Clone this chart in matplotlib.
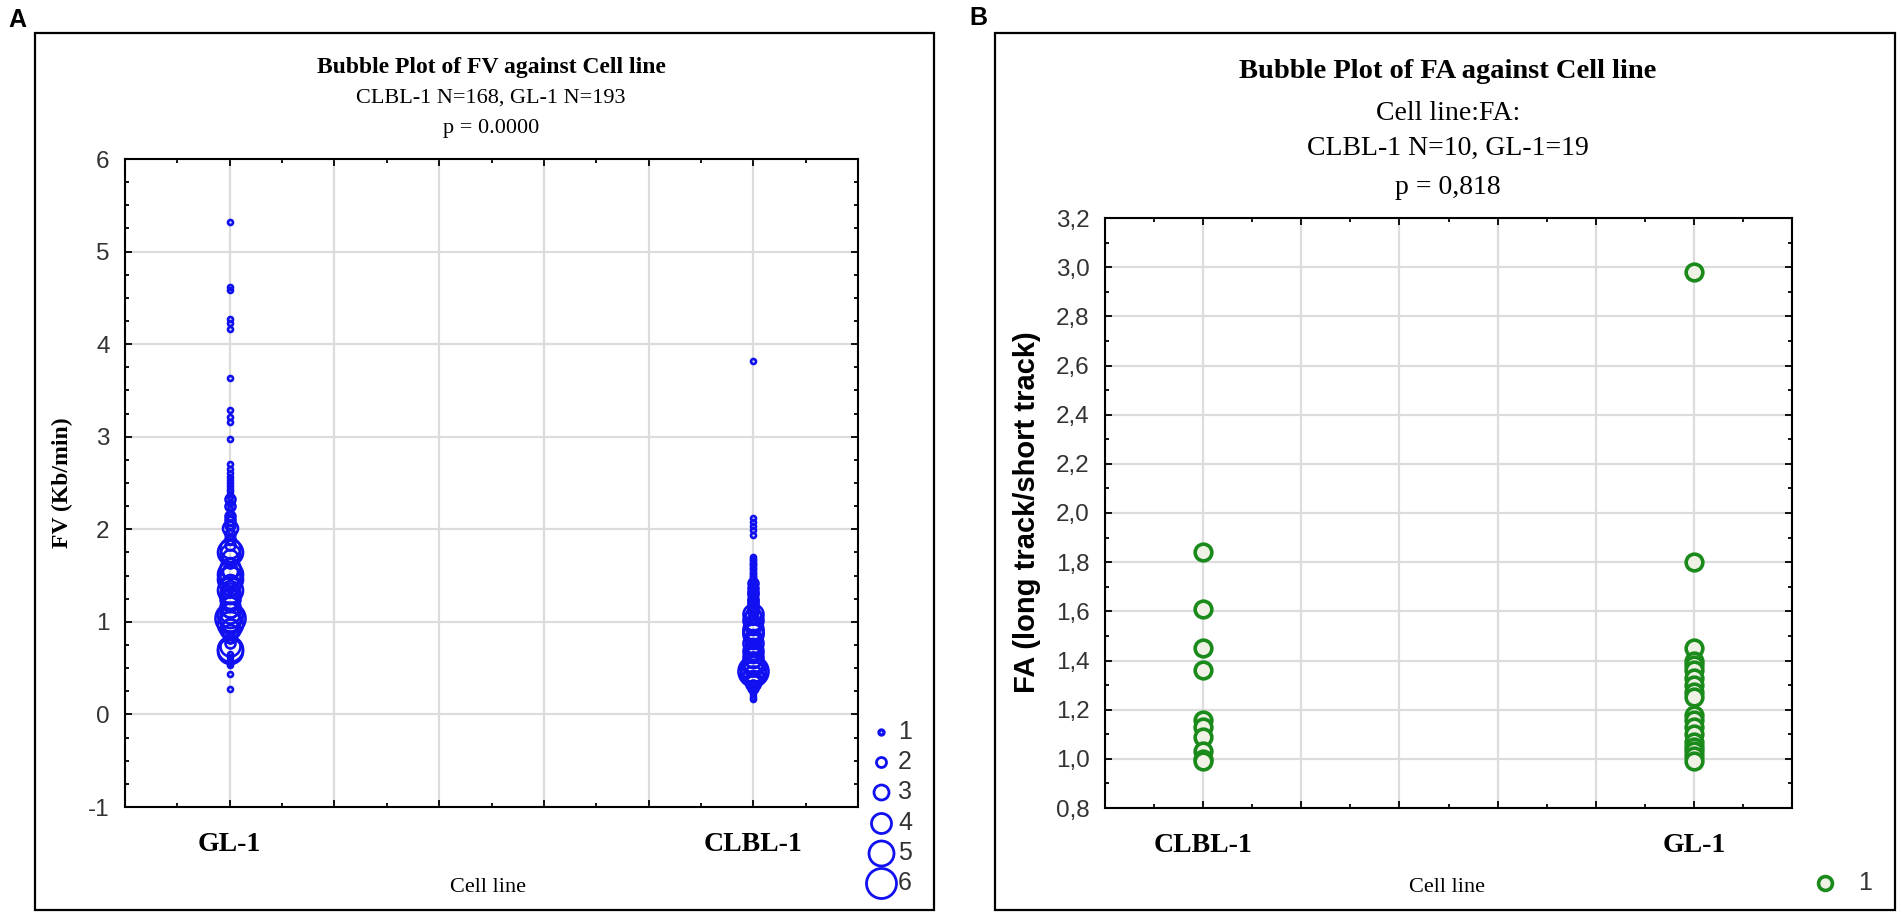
import matplotlib.pyplot as plt
from matplotlib.patches import Rectangle
from matplotlib.ticker import MultipleLocator

plt.rcParams['axes.unicode_minus'] = False

# ---- panel A: FV bubble plot (value, frequency) ----
fv_categories = ['GL-1', 'CLBL-1']

fv_gl1_values = [5.32, 4.62, 4.58, 4.27, 4.23, 4.16, 3.63, 3.29, 3.21, 3.16, 2.97,
                 2.71, 2.65, 2.61, 2.57, 2.53, 2.50, 2.47, 2.44, 2.41, 2.38, 2.35, 2.33,
                 2.30, 2.27, 2.25, 2.22, 2.19, 2.16, 2.14, 2.12, 2.10, 2.07, 2.05, 2.03, 2.01,
                 1.98, 1.95, 1.92, 1.89, 1.86, 1.83, 1.80, 1.76, 1.73, 1.70, 1.67, 1.64,
                 1.61, 1.58, 1.55, 1.52, 1.49, 1.46, 1.43, 1.40, 1.37, 1.34, 1.31, 1.28,
                 1.25, 1.22, 1.19, 1.16, 1.13, 1.10, 1.07, 1.04, 1.01, 0.98, 0.95, 0.92,
                 0.89, 0.86, 0.83, 0.80, 0.77, 0.74, 0.71, 0.68, 0.65, 0.62, 0.59, 0.56,
                 0.53, 0.44, 0.27]
fv_gl1_counts = [1, 1, 1, 1, 1, 1, 1, 1, 1, 1, 1,
                 1, 1, 1, 1, 1, 1, 1, 1, 1, 1, 1, 2,
                 1, 1, 2, 1, 1, 1, 2, 1, 2, 1, 2, 1, 3,
                 1, 2, 1, 2, 1, 2, 4, 5, 4, 3, 1, 2,
                 1, 4, 3, 5, 4, 5, 3, 4, 3, 5, 4, 3,
                 4, 3, 3, 4, 3, 4, 5, 6, 4, 5, 3, 4,
                 3, 1, 2, 1, 2, 4, 5, 5, 1, 1, 1, 1,
                 1, 1, 1]

fv_clbl1_values = [3.82, 2.12, 2.08, 2.04, 1.99, 1.94,
                   1.70, 1.68, 1.67, 1.65, 1.63, 1.62, 1.60, 1.58, 1.57, 1.55, 1.53, 1.52,
                   1.50, 1.48, 1.47, 1.45, 1.43, 1.42, 1.40, 1.38, 1.37, 1.35, 1.33, 1.32,
                   1.30, 1.27, 1.25, 1.22, 1.20, 1.17, 1.15, 1.12,
                   1.09, 1.07, 1.04, 1.02, 0.99, 0.97, 0.94, 0.92, 0.89, 0.87,
                   0.84, 0.82, 0.79, 0.77, 0.74, 0.72, 0.69, 0.67, 0.64, 0.62,
                   0.59, 0.57, 0.54, 0.52, 0.49, 0.47, 0.44, 0.42, 0.39,
                   0.37, 0.34, 0.32, 0.29, 0.27, 0.24, 0.22, 0.19, 0.17]
fv_clbl1_counts = [1, 1, 1, 1, 1, 1,
                   1, 1, 1, 1, 1, 1, 1, 1, 1, 1, 1, 1,
                   1, 1, 1, 1, 1, 2, 1, 1, 2, 1, 1, 2,
                   2, 1, 2, 2, 2, 2, 2, 2,
                   4, 3, 2, 4, 3, 3, 3, 4, 4, 4,
                   3, 3, 3, 4, 3, 3, 4, 3, 3, 4,
                   3, 4, 4, 4, 5, 6, 5, 4, 3,
                   3, 3, 2, 2, 1, 1, 1, 1, 1]

fv_legend_counts = [1, 2, 3, 4, 5, 6]

# ---- panel B: FA bubble plot (every value frequency 1) ----
fa_categories = ['CLBL-1', 'GL-1']
fa_clbl1_values = [1.84, 1.61, 1.45, 1.36, 1.16, 1.13, 1.09, 1.03, 1.00, 0.99]
fa_gl1_values = [2.98, 1.80, 1.45, 1.40, 1.38, 1.36, 1.33, 1.30, 1.27, 1.25,
                 1.18, 1.16, 1.13, 1.10, 1.07, 1.05, 1.03, 1.01, 0.99]

W, H = 1902, 918
BLUE = '#1010f0'
GREEN = '#1a8a1a'
SERIF = 'Liberation Serif'
SANS = 'Liberation Sans'
TICKGREY = '#333333'


def fx(px):
    return px / W


def fy(py):
    return 1 - py / H


def bubble_ms(count):
    # marker diameter grows with frequency (pixels -> points at 100 dpi)
    return 5.0 * count * 0.72


def style_axes(ax, ymajor, yminor):
    ax.set_xlim(0, 7)
    ax.set_xticks(range(8))
    ax.xaxis.set_minor_locator(MultipleLocator(0.5))
    ax.yaxis.set_major_locator(MultipleLocator(ymajor))
    ax.yaxis.set_minor_locator(MultipleLocator(yminor))
    ax.grid(True, which='major', color='#dcdcdc', lw=1.6)
    ax.set_axisbelow(True)
    for s in ax.spines.values():
        s.set_linewidth(1.5)
    ax.tick_params(which='both', direction='in', top=True, right=True, width=1.3)
    ax.tick_params(which='major', length=5)
    ax.tick_params(which='minor', length=3)
    ax.tick_params(axis='y', pad=11, labelsize=17.5, labelcolor=TICKGREY)
    ax.tick_params(axis='x', pad=18)


def cat_labels(cats):
    labels = [''] * 8
    labels[1] = cats[0]
    labels[6] = cats[1]
    return labels


fig = plt.figure(figsize=(W / 100, H / 100), dpi=100)

# panel frames and letters
for x0, x1 in [(35, 934), (995, 1895)]:
    fig.add_artist(Rectangle((fx(x0), fy(910)), fx(x1) - fx(x0), fy(33) - fy(910),
                             transform=fig.transFigure, fill=False, lw=1.6, ec='black'))
fig.text(fx(17), fy(20), 'A', ha='center', va='center', fontsize=18, fontweight='bold', family=SANS)
fig.text(fx(978), fy(18), 'B', ha='center', va='center', fontsize=18, fontweight='bold', family=SANS)

# ---------- panel A ----------
axA = fig.add_axes([fx(125), fy(807), fx(858) - fx(125), fy(159) - fy(807)])
for pos, vals, cnts in [(1, fv_gl1_values, fv_gl1_counts), (6, fv_clbl1_values, fv_clbl1_counts)]:
    for v, c in zip(vals, cnts):
        axA.plot(pos, v, 'o', ms=bubble_ms(c), mfc='none', mec=BLUE, mew=1.9)
axA.set_ylim(-1, 6)
style_axes(axA, 1, 0.25)
axA.set_xticklabels(cat_labels(fv_categories), family=SERIF, fontweight='bold', fontsize=20)
for t in axA.get_yticklabels():
    t.set_family(SANS)

cxA = fx(491)
fig.text(cxA, fy(67), 'Bubble Plot of FV against Cell line', ha='center', va='center',
         family=SERIF, fontweight='bold', fontsize=17)
fig.text(cxA, fy(98), 'CLBL-1 N=168, GL-1 N=193', ha='center', va='center', family=SERIF, fontsize=16)
fig.text(cxA, fy(128), 'p = 0.0000', ha='center', va='center', family=SERIF, fontsize=16)
fig.text(fx(488), fy(888), 'Cell line', ha='center', va='center', family=SERIF, fontsize=16)
fig.text(fx(62), fy(483), 'FV (Kb/min)', ha='center', va='center', rotation=90,
         family=SERIF, fontweight='bold', fontsize=17)

# size legend
for i, c in enumerate(fv_legend_counts):
    yy = 732 + 30.2 * i
    fig.lines.append(plt.Line2D([fx(881)], [fy(yy)], marker='o', ms=bubble_ms(c), mfc='none',
                                mec=BLUE, mew=2.0 if c > 1 else 2.4, transform=fig.transFigure))
    fig.text(fx(898), fy(yy), str(c), ha='left', va='center', family=SANS, fontsize=18, color=TICKGREY)

# ---------- panel B ----------
axB = fig.add_axes([fx(1105), fy(808), fx(1792) - fx(1105), fy(218) - fy(808)])
for pos, vals in [(1, fa_clbl1_values), (6, fa_gl1_values)]:
    axB.plot([pos] * len(vals), vals, 'o', ls='none', ms=12, mfc='#eef1e4', mec=GREEN, mew=2.6)
axB.set_ylim(0.8, 3.2)
style_axes(axB, 0.2, 0.1)
axB.set_xticklabels(cat_labels(fa_categories), family=SERIF, fontweight='bold', fontsize=20)
axB.set_yticks([0.8 + 0.2 * i for i in range(13)])
axB.set_yticklabels([f'{0.8 + 0.2 * i:.1f}'.replace('.', ',') for i in range(13)], family=SANS)

cxB = fx(1448)
fig.text(cxB, fy(72), 'Bubble Plot of FA against Cell line', ha='center', va='center',
         family=SERIF, fontweight='bold', fontsize=20.5)
fig.text(cxB, fy(113), 'Cell line:FA:', ha='center', va='center', family=SERIF, fontsize=20)
fig.text(cxB, fy(148), 'CLBL-1 N=10, GL-1=19', ha='center', va='center', family=SERIF, fontsize=20)
fig.text(cxB, fy(187), 'p = 0,818', ha='center', va='center', family=SERIF, fontsize=20)
fig.text(fx(1447), fy(887), 'Cell line', ha='center', va='center', family=SERIF, fontsize=16)
fig.text(fx(1027), fy(512), 'FA (long track/short track)', ha='center', va='center', rotation=90,
         family=SANS, fontweight='bold', fontsize=21)

fig.lines.append(plt.Line2D([fx(1825)], [fy(883)], marker='o', ms=10, mfc='#eef1e4', mec=GREEN,
                            mew=2.6, transform=fig.transFigure))
fig.text(fx(1858), fy(883), '1', ha='left', va='center', family=SANS, fontsize=18, color=TICKGREY)

fig.savefig('out.png', dpi=100)
